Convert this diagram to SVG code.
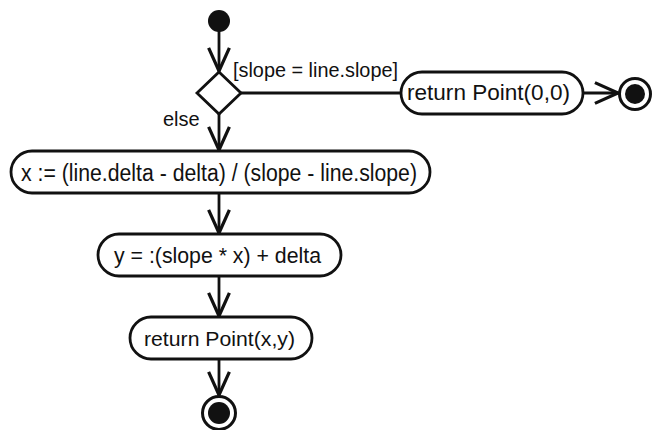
<svg xmlns="http://www.w3.org/2000/svg" width="653" height="430" viewBox="0 0 653 430">
<style>
.box{fill:#fff;stroke:#111;stroke-width:2.8}
.ln{fill:none;stroke:#111;stroke-width:2.8}
.t{font-family:"Liberation Sans",Arial,sans-serif;font-size:20px;fill:#111}
</style>
<defs>
<marker id="arr" markerUnits="userSpaceOnUse" markerWidth="30" markerHeight="30" viewBox="-22 -12 26 24" refX="0" refY="0" orient="auto">
<path d="M-20,-9 L0,0 L-20,9" fill="none" stroke="#111" stroke-width="2.8"/>
</marker>
</defs>
<g id="connectors">
<line class="ln" x1="219" y1="30" x2="219" y2="71" marker-end="url(#arr)"/>
<line class="ln" x1="241" y1="93" x2="401" y2="93"/>
<line class="ln" x1="219" y1="114" x2="219" y2="150" marker-end="url(#arr)"/>
<line class="ln" x1="219" y1="193" x2="219" y2="233" marker-end="url(#arr)"/>
<line class="ln" x1="219" y1="276" x2="219" y2="316" marker-end="url(#arr)"/>
<line class="ln" x1="219" y1="359" x2="219" y2="395" marker-end="url(#arr)"/>
<line class="ln" x1="583" y1="93" x2="618" y2="93" marker-end="url(#arr)"/>
<text class="t" x="233" y="77" textLength="165" lengthAdjust="spacingAndGlyphs">[slope = line.slope]</text>
<text class="t" x="163" y="126">else</text>
</g>
<g id="start"><circle cx="219" cy="21" r="11" fill="#111"/></g>
<g id="decision"><polygon class="box" points="219,72 241,93 219,114 197,93"/></g>
<g id="ret00">
<rect class="box" x="401" y="72" width="182" height="42" rx="21"/>
<text class="t" x="407" y="99.5" style="font-size:21.5px" textLength="163" lengthAdjust="spacingAndGlyphs">return Point(0,0)</text>
</g>
<g id="end1">
<circle cx="635" cy="94" r="15.5" fill="#fff" stroke="#111" stroke-width="3"/>
<circle cx="635" cy="94" r="10" fill="#111"/>
</g>
<g id="computeX">
<rect class="box" x="11" y="151" width="419" height="42" rx="21"/>
<text class="t" x="21" y="180.5" style="font-size:23.5px" textLength="396" lengthAdjust="spacingAndGlyphs">x := (line.delta - delta) / (slope - line.slope)</text>
</g>
<g id="computeY">
<rect class="box" x="98" y="234" width="243" height="42" rx="21"/>
<text class="t" x="114" y="263" style="font-size:21.5px" textLength="207" lengthAdjust="spacingAndGlyphs">y = :(slope * x) + delta</text>
</g>
<g id="retXY">
<rect class="box" x="130" y="317" width="182" height="42" rx="21"/>
<text class="t" x="144" y="346" style="font-size:21px" textLength="151" lengthAdjust="spacingAndGlyphs">return Point(x,y)</text>
</g>
<g id="end2">
<circle cx="219" cy="413" r="16.5" fill="#fff" stroke="#111" stroke-width="3"/>
<circle cx="219" cy="413" r="11" fill="#111"/>
</g>
</svg>
